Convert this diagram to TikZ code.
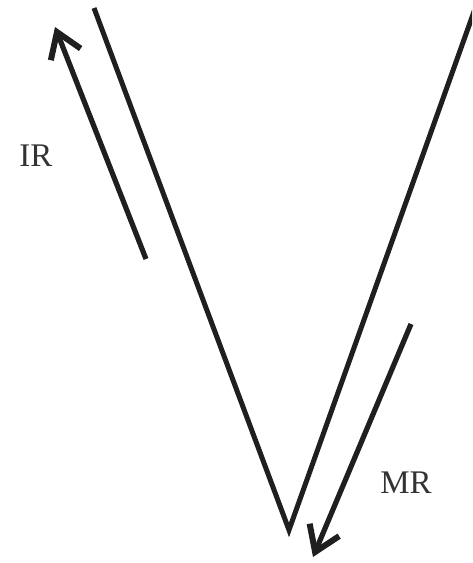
\documentclass[tikz,border=0pt]{standalone}
\usepackage{fontspec}
\setmainfont{Liberation Serif}
\usetikzlibrary{arrows.meta}
\begin{document}
\begin{tikzpicture}[x=1pt,y=-1pt,
  vline/.style={line width=5pt, black!88},
  ray/.style={line width=5.2pt, black!88, -{Straight Barb[length=24pt,width=32pt,line width=6pt]}},
  lbl/.style={font=\fontsize{33}{35}\selectfont, text=black!80, inner sep=0pt}]
\useasboundingbox (0,0) rectangle (472,563);
\begin{scope}
\clip (0,0) rectangle (472,563);
\coordinate (Ltop) at (94,8);
\coordinate (Vbot) at (289,530);
\coordinate (Rtop) at (476,6);
\draw[vline, line join=miter] (Ltop) -- (Vbot) -- (Rtop);
\coordinate (IRtail) at (146,259);
\coordinate (IRtip) at (55,27);
\draw[ray] (IRtail) -- (IRtip);
\coordinate (MRtail) at (411,324);
\coordinate (MRtip) at (313,557);
\draw[ray] (MRtail) -- (MRtip);
\end{scope}
\node[lbl] (IR) at (36,156) {IR};
\node[lbl] (MR) at (406,483) {MR};
\end{tikzpicture}
\end{document}
